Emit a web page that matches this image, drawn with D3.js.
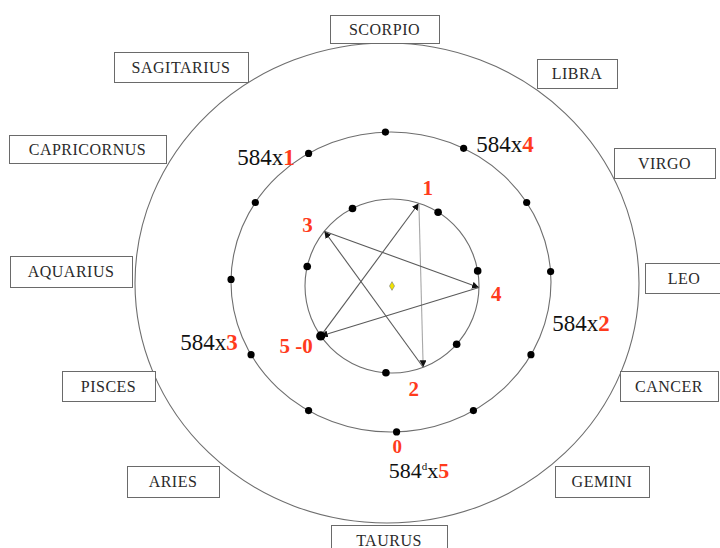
<!DOCTYPE html>
<html><head><meta charset="utf-8">
<script src="https://cdn.jsdelivr.net/npm/d3@7"></script>
<style>html,body{margin:0;padding:0;background:#fff;overflow:hidden}</style>
</head><body>
<svg id="c" width="720" height="548"></svg>
<script>
// ---- data ----
const signs = ["SCORPIO","LIBRA","VIRGO","LEO","CANCER","GEMINI","TAURUS","ARIES","PISCES","AQUARIUS","CAPRICORNUS","SAGITARIUS"];
const middleDotAngles = [-2, 27, 58, 86, 119, 149, 178, 211, 241, 271, 302, 329];
const innerDotAngles = [333, 32, 80, 132, 184, 235, 283];
const starPath = [235, 18, 159, 309, 91, 235];          // Venus pentagram sequence 0→1→2→3→4→5
const starLabels = ["1", "2", "3", "4", "5 -0"];
const starLabelAngles = [20, 168, 306, 94, 238];
const cycleMultipliers = ["1", "4", "2", "3", "5"];
const cycleBase = "584";

// ---- layout ----
const outer = {cx: 387, cy: 283, rx: 252, ry: 240};
const middle = {cx: 391, cy: 282, rx: 160, ry: 150};
const inner = {cx: 392, cy: 286, rx: 87, ry: 87};
const boxes = [
  [330,15,109,28],[537,59,80,29],[614,148,101,30],[645,263,78,30],
  [620,371,98,30],[555,466,94,31],[331,525,116,30],[127,466,92,31],
  [62,371,93,30],[10,256,122,31],[9,135,157,28],[114,52,134,30]
];
const cycleLabelPos = [[266,165],[505,152],[581,331],[209,350],[419,478]];
const RED = "#ff3b1c";
const SERIF = "'Liberation Serif','Times New Roman',serif";

const svg = d3.select("#c");
const ang = d3.scaleLinear().domain([0, 360]).range([0, 2 * Math.PI]);
const pos = (ring, a, k = 1) => [ring.cx + k * ring.rx * Math.sin(ang(a)), ring.cy - k * ring.ry * Math.cos(ang(a))];

// rings
[outer, middle, inner].forEach(r => {
  svg.append("ellipse").attr("cx", r.cx).attr("cy", r.cy).attr("rx", r.rx).attr("ry", r.ry)
    .attr("fill", "none").attr("stroke", "#6e6e6e").attr("stroke-width", 1.1);
});

// zodiac boxes
const bg = svg.selectAll("g.sign").data(signs).join("g").attr("class", "sign");
bg.append("rect")
  .attr("x", (d, i) => boxes[i][0] + 0.5).attr("y", (d, i) => boxes[i][1] + 0.5)
  .attr("width", (d, i) => boxes[i][2]).attr("height", (d, i) => boxes[i][3])
  .attr("fill", "#fff").attr("stroke", "#6a6a6a").attr("stroke-width", 1);
bg.append("text")
  .attr("x", (d, i) => boxes[i][0] + boxes[i][2] / 2)
  .attr("y", (d, i) => boxes[i][1] + boxes[i][3] / 2 + 5.5)
  .attr("text-anchor", "middle").attr("font-family", SERIF).attr("font-size", 16)
  .attr("letter-spacing", 0.5)
  .attr("fill", "#2a2a2a").text(d => d);

// arrow marker
svg.append("defs").append("marker").attr("id", "arr")
  .attr("viewBox", "0 0 10 10").attr("refX", 10).attr("refY", 5)
  .attr("markerWidth", 7).attr("markerHeight", 7).attr("markerUnits", "userSpaceOnUse")
  .attr("orient", "auto")
  .append("path").attr("d", "M0,0 L10,5 L0,10 Z").attr("fill", "#111");

// pentagram
for (let i = 0; i < starPath.length - 1; i++) {
  const p0 = pos(inner, starPath[i]), p1 = pos(inner, starPath[i + 1]);
  svg.append("line").attr("x1", p0[0]).attr("y1", p0[1]).attr("x2", p1[0]).attr("y2", p1[1])
    .attr("stroke", i === 1 ? "#a8a8a8" : "#5a5a5a").attr("stroke-width", 1.1)
    .attr("marker-end", "url(#arr)");
}

// dots
svg.selectAll("circle.md").data(middleDotAngles).join("circle").attr("class", "md")
  .attr("cx", d => pos(middle, d)[0]).attr("cy", d => pos(middle, d)[1]).attr("r", 3.6).attr("fill", "#000");
svg.selectAll("circle.id").data(innerDotAngles).join("circle").attr("class", "id")
  .attr("cx", d => pos(inner, d)[0]).attr("cy", d => pos(inner, d)[1])
  .attr("r", (d, i) => i === 5 ? 4.6 : 3.8).attr("fill", "#000");

// center marker
svg.append("path").attr("d", d3.symbol(d3.symbolDiamond, 22)())
  .attr("transform", `translate(${inner.cx},${inner.cy})`)
  .attr("fill", "#f2e400").attr("stroke", "#777").attr("stroke-width", 0.6);

// pentagram vertex labels
svg.selectAll("text.sl").data(starLabels).join("text").attr("class", "sl")
  .attr("x", (d, i) => pos(inner, starLabelAngles[i], i === 4 ? 1.3 : 1.2)[0])
  .attr("y", (d, i) => pos(inner, starLabelAngles[i], i === 4 ? 1.3 : 1.2)[1])
  .attr("dy", "0.36em").attr("text-anchor", "middle")
  .attr("font-family", SERIF).attr("font-weight", "bold").attr("font-size", 21)
  .attr("fill", RED).text(d => d);

// synodic cycle labels 584 x n
cycleMultipliers.forEach((m, i) => {
  const t = svg.append("text").attr("x", cycleLabelPos[i][0]).attr("y", cycleLabelPos[i][1])
    .attr("text-anchor", "middle").attr("font-family", SERIF).attr("font-size", i === 4 ? 22 : 23).attr("fill", "#111");
  t.append("tspan").text(cycleBase);
  if (i === 4) {
    t.append("tspan").attr("font-size", 11).attr("dy", -8).text("d");
    t.append("tspan").attr("dy", 8).text("x");
  } else {
    t.append("tspan").text("x");
  }
  t.append("tspan").attr("fill", RED).attr("font-weight", "bold").text(m);
});

// "0" start mark
svg.append("text").attr("x", pos(middle, 178, 1.1)[0]).attr("y", pos(middle, 178, 1.1)[1])
  .attr("dy", "0.3em").attr("text-anchor", "middle").attr("font-family", SERIF)
  .attr("font-weight", "bold").attr("font-size", 19).attr("fill", RED).text("0");
</script>
</body></html>
